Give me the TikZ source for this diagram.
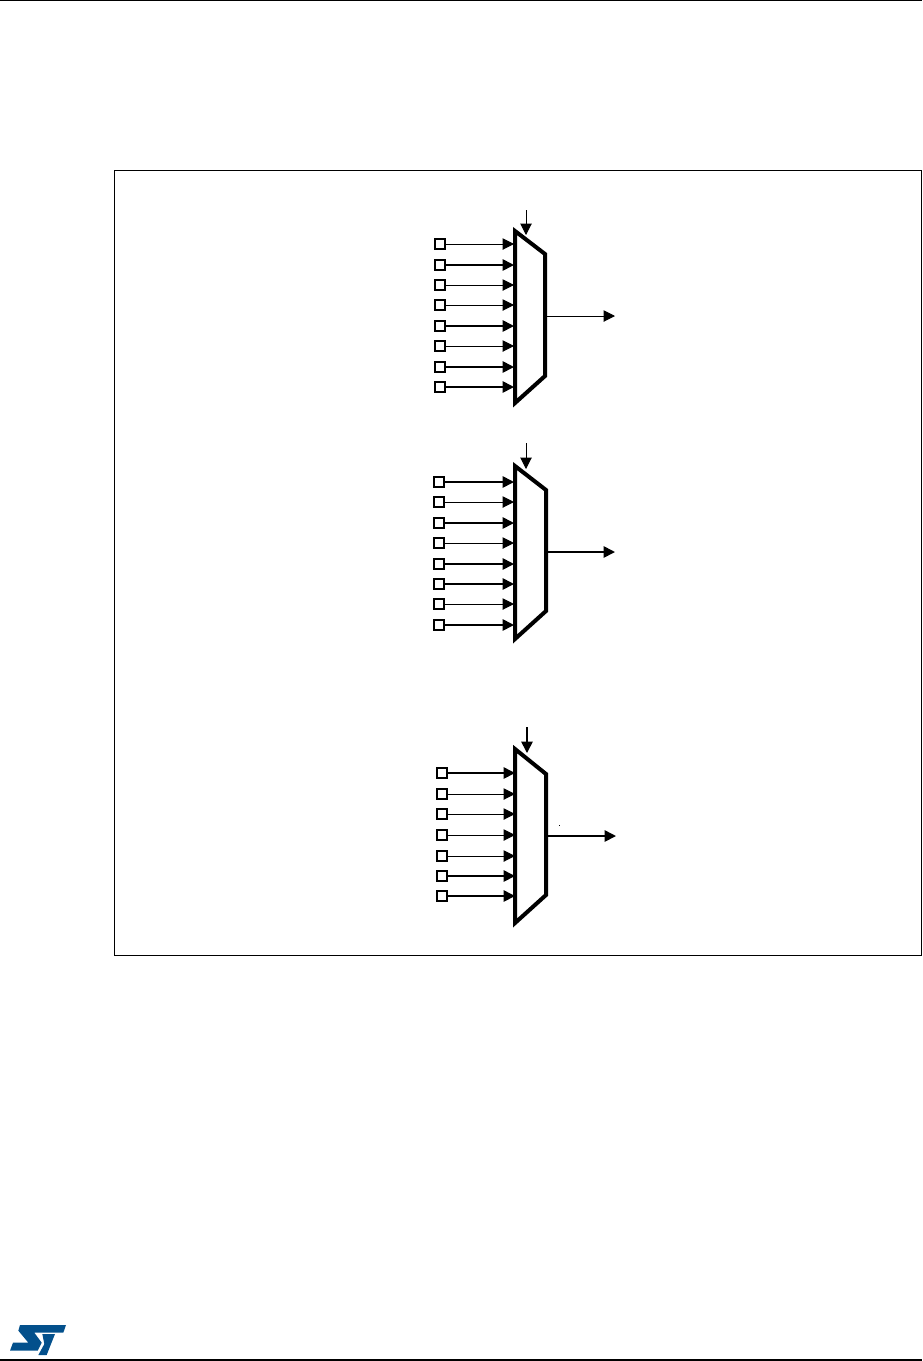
\documentclass[tikz,border=0pt]{standalone}
\usetikzlibrary{arrows.meta}
\definecolor{stblue}{RGB}{3,80,140}
\tikzset{
  x=0.75pt,y=-0.75pt,
  pin/.style={draw=black,fill=white,line width=1.4pt,minimum size=7.2pt,inner sep=0pt,outer sep=0pt,rectangle},
  muxbody/.style={draw=black,fill=white,line width=3pt,miter limit=10},
  thinwire/.style={line width=0.75pt,-{Triangle[length=8.5pt,width=8.5pt]}},
  thickwire/.style={line width=1.25pt,-{Triangle[length=8.5pt,width=8.5pt]}},
  frameline/.style={draw=black,line width=0.6pt},
  pageline/.style={draw=black,line width=0.9pt},
}
\begin{document}
\begin{tikzpicture}
\useasboundingbox (0,0) rectangle (922,1361);
% page rules
\coordinate (hl) at (0,0.5); \coordinate (hr) at (922,0.5);
\coordinate (fl) at (0,1360); \coordinate (fr) at (922,1360);
\draw[pageline] (hl) -- (hr);
\draw[pageline] (fl) -- (fr);
% frame
\draw[frameline] (114.5,170.5) rectangle (921,955.5);
% --- mux 1
\coordinate (ao) at (515,231); \coordinate (bo) at (545,254); \coordinate (co) at (545,376); \coordinate (dt) at (515,403);
\draw[muxbody] (ao) -- (bo) -- (co) -- (dt) -- cycle;
\foreach \i/\yy/\st in {1/244/thinwire,2/265/thickwire,3/285/thinwire,4/305/thinwire,5/326/thickwire,6/346/thinwire,7/367/thickwire,8/387/thickwire}{
  \node[pin] (a\i) at (440,\yy) {};
  \coordinate (ae\i) at (514,\yy);
  \draw[\st] (a\i) -- (ae\i);
}
\coordinate (as) at (526,210); \coordinate (ase) at (526,235);
\draw[thinwire] (as) -- (ase);
\coordinate (aos) at (546,316); \coordinate (aoe) at (615,316);
\draw[thinwire] (aos) -- (aoe);
% --- mux 2
\coordinate (bao) at (515,466); \coordinate (bbo) at (546,490); \coordinate (bco) at (546,611); \coordinate (bdt) at (515,639);
\draw[muxbody] (bao) -- (bbo) -- (bco) -- (bdt) -- cycle;
\foreach \i/\yy/\st in {1/482/thickwire,2/502/thinwire,3/523/thickwire,4/543/thinwire,5/564/thickwire,6/584/thickwire,7/604/thinwire,8/625/thickwire}{
  \node[pin] (b\i) at (439,\yy) {};
  \coordinate (be\i) at (514,\yy);
  \draw[\st] (b\i) -- (be\i);
}
\coordinate (bs) at (526,443); \coordinate (bse) at (526,469);
\draw[thinwire] (bs) -- (bse);
\coordinate (bos) at (547,552); \coordinate (boe) at (615,552);
\draw[thickwire] (bos) -- (boe);
% --- mux 3
\coordinate (cao) at (515,749); \coordinate (cbo) at (546,774); \coordinate (cco) at (546,895); \coordinate (cdt) at (515,923);
\draw[muxbody] (cao) -- (cbo) -- (cco) -- (cdt) -- cycle;
\foreach \i/\xx/\yy/\st in {1/442/773/thickwire,2/442/794/thinwire,3/442/814/thinwire,4/442/835/thinwire,5/442/856/thinwire,6/442/876/thickwire,7/442/896/thickwire}{
  \node[pin] (c\i) at (\xx,\yy) {};
  \coordinate (ce\i) at (515,\yy);
  \draw[\st] (c\i) -- (ce\i);
}
\coordinate (cs) at (527,727); \coordinate (cse) at (527,753);
\draw[thickwire] (cs) -- (cse);
\coordinate (cos) at (547,836); \coordinate (coe) at (616,836);
\draw[thickwire] (cos) -- (coe);
\fill[black] (558.7,825.2) rectangle (559.5,826);
% --- logo (crop coordinates: x=5+c/3, y=1320+c/3)
\begin{scope}[shift={(5,1320)},x=0.25pt,y=-0.25pt]
\fill[stblue] (45,15) -- (183,15) -- (175,38) -- (88,38) -- (110,68) -- (98,92) -- (15,92) -- (24,68) -- (70,68) -- (40,32) -- cycle;
\fill[stblue] (112,42) -- (150,42) -- (125,105) -- (100,105) -- (118,72) -- cycle;
\end{scope}
\end{tikzpicture}
\end{document}
